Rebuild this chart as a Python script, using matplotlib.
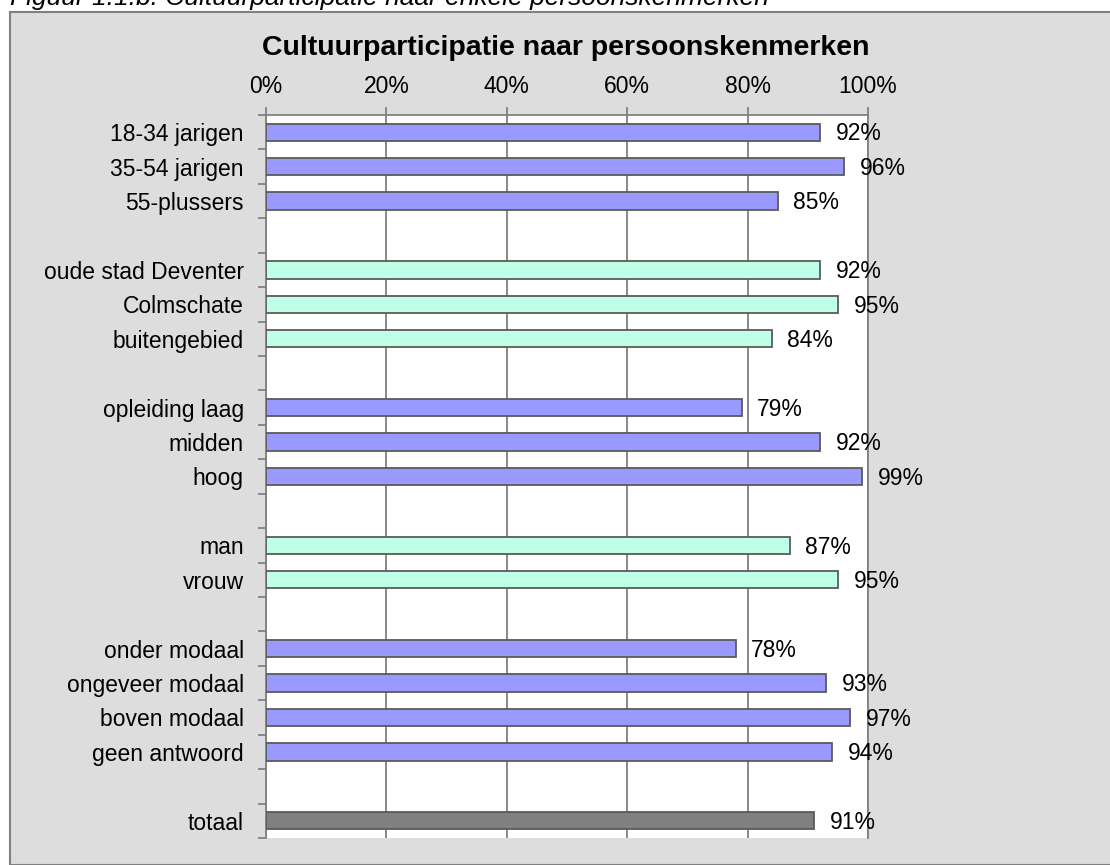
import numpy as np
import matplotlib
matplotlib.use('Agg')
import matplotlib.pyplot as plt
from matplotlib.patches import Rectangle
from matplotlib.ticker import FixedLocator

plt.rcParams['font.family'] = ['Liberation Sans', 'DejaVu Sans']

# data per groep
age_labels = ['18-34 jarigen', '35-54 jarigen', '55-plussers']
age_values = [92, 96, 85]
area_labels = ['oude stad Deventer', 'Colmschate', 'buitengebied']
area_values = [92, 95, 84]
edu_labels = ['opleiding laag', 'midden', 'hoog']
edu_values = [79, 92, 99]
sex_labels = ['man', 'vrouw']
sex_values = [87, 95]
inc_labels = ['onder modaal', 'ongeveer modaal', 'boven modaal', 'geen antwoord']
inc_values = [78, 93, 97, 94]
tot_labels = ['totaal']
tot_values = [91]

purple = '#9999FF'
cyan = '#BFFFE6'
grey = '#808080'

groups = [(age_labels, age_values, purple),
          (area_labels, area_values, cyan),
          (edu_labels, edu_values, purple),
          (sex_labels, sex_values, cyan),
          (inc_labels, inc_values, purple),
          (tot_labels, tot_values, grey)]

labels = [];values = [];colors = []
for i, (lab, val, col) in enumerate(groups):
    labels += lab
    values += val
    colors += [col] * len(lab)
    if i < len(groups) - 1:
        labels.append('')
        values.append(np.nan)
        colors.append('white')

pos = np.arange(len(labels))

fig = plt.figure(figsize=(11.1, 8.65), dpi=100)
fig.patch.set_facecolor('white')
fig.patches.append(Rectangle((10/1110, 0), 1.0, 1 - 12/865, transform=fig.transFigure,
                             facecolor='#DDDDDD', edgecolor='#808080', lw=1.5, zorder=0))
fig.text(10/1110, 1 - 5/865, 'Figuur 1.1.b: Cultuurparticipatie naar enkele persoonskenmerken',
         fontsize=19, style='italic', va='baseline', ha='left')
fig.text(566/1110, 1 - 48/865, 'Cultuurparticipatie naar persoonskenmerken',
         fontsize=20.5, weight='bold', ha='center', va='center')

ax = fig.add_axes([266/1110, 1 - 838/865, 602/1110, 723/865])
ax.set_zorder(2)
ax.set_facecolor('white')
ax.barh(pos, values, height=0.5, color=colors, edgecolor='#5A5A5A', lw=1.3, zorder=3)
for p, v in zip(pos, values):
    if not np.isnan(v):
        ax.text(v + 2.6, p + 0.05, '%d%%' % v, va='center', ha='left', fontsize=16.5, zorder=4)

ax.set_xlim(0, 100)
ax.set_ylim(len(labels) - 0.5, -0.5)
ax.xaxis.tick_top()
ax.set_xticks(np.arange(0, 101, 20))
ax.set_xticklabels(['%d%%' % t for t in range(0, 101, 20)], fontsize=16.5)
ax.tick_params(axis='x', length=6, color='#808080', width=1.3, pad=6.5)
ax.set_yticks(pos)
ax.set_yticklabels(labels, fontsize=16.5)
ax.tick_params(axis='y', which='major', length=0, pad=16)
ax.yaxis.set_minor_locator(FixedLocator(np.arange(-0.5, len(labels), 1)))
ax.tick_params(axis='y', which='minor', length=6, color='#808080', width=1.3)
ax.grid(axis='x', color='#808080', lw=1.3, zorder=1)
for s in ['top', 'left', 'right']:
    ax.spines[s].set_color('#808080')
    ax.spines[s].set_linewidth(1.3)
ax.spines['bottom'].set_visible(False)

fig.savefig('out.png', dpi=100)
